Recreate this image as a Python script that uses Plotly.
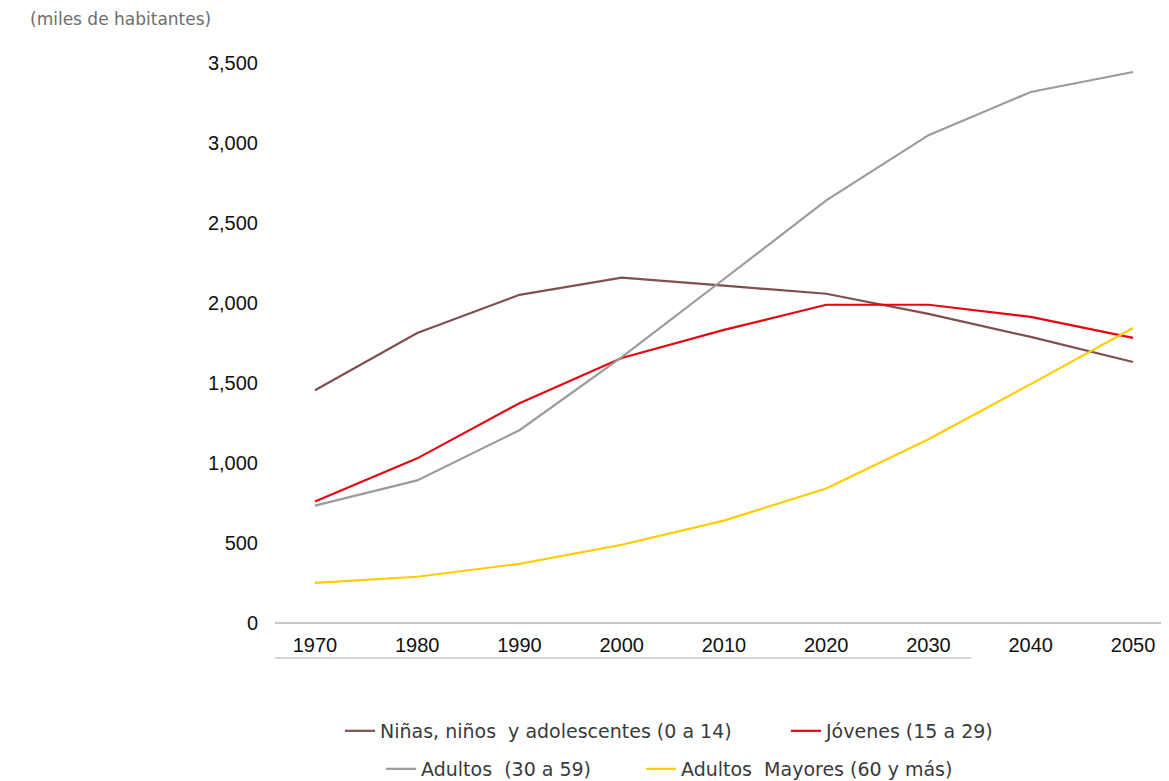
import plotly.graph_objects as go

years = [1970, 1980, 1990, 2000, 2010, 2020, 2030, 2040, 2050]
year_labels = ["1970", "1980", "1990", "2000", "2010", "2020", "2030", "2040", "2050"]

ninos = [1455, 1813, 2051, 2158, 2108, 2058, 1932, 1788, 1631]
jovenes = [759, 1029, 1374, 1656, 1832, 1989, 1989, 1913, 1782]
adultos = [734, 891, 1205, 1662, 2150, 2641, 3049, 3319, 3444]
mayores = [251, 289, 370, 489, 640, 841, 1148, 1493, 1844]

names = ["Niñas, niños  y adolescentes (0 a 14)", "Jóvenes (15 a 29)",
         "Adultos  (30 a 59)", "Adultos  Mayores (60 y más)"]
colors = ["#7f4f51", "#e30613", "#9b9b9b", "#ffcc00"]
series = [ninos, jovenes, adultos, mayores]
legend_ids = ["legend", "legend2", "legend3", "legend4"]

y_ticks = [0, 500, 1000, 1500, 2000, 2500, 3000, 3500]

fig = go.Figure()
for nm, col, vals, lg in zip(names, colors, series, legend_ids):
    fig.add_trace(go.Scatter(x=years, y=vals, name=nm, mode="lines",
                             line=dict(color=col, width=2.2), legend=lg))

tick_font = dict(family="Liberation Sans, Arial", size=20, color="#111111")
legend_font = dict(family="DejaVu Sans, Arial", size=19, color="#3a3a3a")

# legend placement (paper coords): two centred rows, two entries each
legend_pos = [(0.0727, -0.1852), (0.5716, -0.1852), (0.1186, -0.2504), (0.4094, -0.2504)]
legend_layouts = {}
for lg, (lx, ly) in zip(legend_ids, legend_pos):
    legend_layouts[lg] = dict(orientation="h", x=lx, xanchor="left", y=ly, yanchor="middle",
                              font=legend_font, bgcolor="rgba(0,0,0,0)", itemwidth=30)

fig.update_layout(
    width=1161, height=773,
    margin=dict(l=267, r=0, t=32, b=158, autoexpand=False),
    paper_bgcolor="white", plot_bgcolor="white",
    showlegend=True,
    xaxis=dict(range=[1966.09, 2053.52], tickvals=years, ticktext=year_labels,
               showgrid=False, zeroline=False, showline=False, ticks="",
               tickfont=tick_font, ticklabelstandoff=8),
    yaxis=dict(range=[0, 3643.75], tickvals=y_ticks, tickformat=",",
               showgrid=False, zeroline=True, zerolinecolor="#c8c8c8", zerolinewidth=2,
               showline=False, ticks="", tickfont=tick_font, ticklabelstandoff=16),
    shapes=[dict(type="line", xref="paper", yref="paper", x0=0, x1=0.7785,
                 y0=-0.06, y1=-0.06, line=dict(color="#c8c8c8", width=1.5))],
    annotations=[dict(text="(miles de habitantes)", xref="paper", yref="paper",
                      x=-0.276, y=1.036, xanchor="left", yanchor="middle",
                      showarrow=False,
                      font=dict(family="DejaVu Sans, Arial", size=17, color="#6e6e6e"))],
    **legend_layouts,
)

fig.write_html("out.html")
